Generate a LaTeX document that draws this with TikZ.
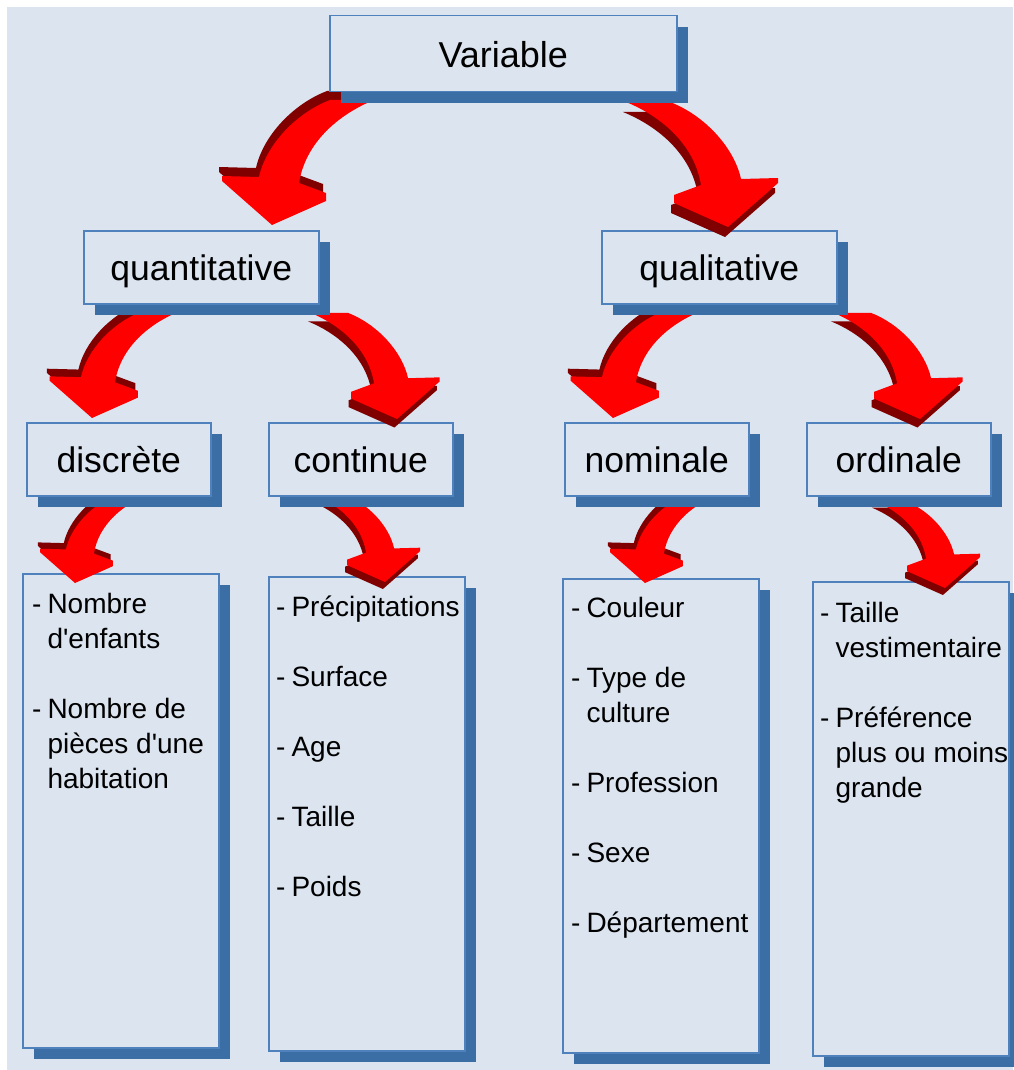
\documentclass[tikz,border=0pt]{standalone}
\usepackage{fontspec}
\setmainfont{Liberation Sans}[Ligatures=TeXOff]
\usetikzlibrary{shadows,calc}
\definecolor{bgblue}{RGB}{219,228,239}
\definecolor{lineblue}{RGB}{79,129,189}
\definecolor{shadeblue}{RGB}{59,110,165}
\definecolor{darkred}{RGB}{128,0,0}
\newcommand\itemlist[1]{\begin{tabular}[t]{@{}l@{\hspace{6pt}}l@{}}#1\end{tabular}}
\tikzset{
box/.style={draw=lineblue,line width=1.5pt,fill=bgblue,inner sep=0pt,anchor=north west,
 drop shadow={shadow xshift=11pt,shadow yshift=-11pt,fill=shadeblue,opacity=1}},
headbox/.style={box,minimum height=73pt,font=\fontsize{35.5}{40}\selectfont,text height=27pt,text depth=0pt},
listbox/.style={box,minimum width=196pt,minimum height=474pt},
listtext/.style={anchor=base west,inner sep=0pt,font=\fontsize{28}{35}\selectfont},
arrowshape/.style={insert path={(0,0)--(-50,-44)--(-50,-49)--(-13,-48)..controls(-6,-80)and(24,-112)..(58,-125)--(102,-125)..controls(70,-112)and(34,-85)..(27,-42)--(54,-32)--(54,-24)--cycle}},
redarrow/.pic={
\fill[darkred,shift={(#1)},arrowshape];
\fill[red,arrowshape];
}
}
\begin{document}
\begin{tikzpicture}[x=1pt,y=-1pt]
\useasboundingbox (0,0) rectangle (1013,1070);
\fill[white] (0,0) rectangle (1013,1070);
\fill[bgblue] (7,7) rectangle (1013,1070);

\node[listbox] (lst1) at (22,573) {};
\node[listbox] (lst2) at (268,576) {};
\node[listbox] (lst3) at (562,578) {};
\node[listbox] (lst4) at (812,581) {};
\node[listtext] (txt1) at ($(lst1.north west)+(10,40)$)
 {\itemlist{-&Nombre\\&d'enfants\\[35pt]-&Nombre de\\&pièces d'une\\&habitation}};
\node[listtext] (txt2) at ($(lst2.north west)+(8,40)$)
 {\itemlist{-&Précipitations\\[35pt]-&Surface\\[35pt]-&Age\\[35pt]-&Taille\\[35pt]-&Poids}};
\node[listtext] (txt3) at ($(lst3.north west)+(9,39)$)
 {\itemlist{-&Couleur\\[35pt]-&Type de\\&culture\\[35pt]-&Profession\\[35pt]-&Sexe\\[35pt]-&Département}};
\node[listtext] (txt4) at ($(lst4.north west)+(8,41)$)
 {\itemlist{-&Taille\\&vestimentaire\\[35pt]-&Préférence\\&plus ou moins\\&grande}};

\pic[scale=0.7] at ($(lst1.north west)+(53,10)$) {redarrow={-3,-9}};
\pic[xscale=-1,scale=0.7] at ($(lst2.north west)+(117,6)$) {redarrow={3,10}};
\pic[scale=0.7] at ($(lst3.north west)+(83,5)$) {redarrow={-3,-9}};
\pic[xscale=-1,scale=0.7] at ($(lst4.north west)+(133,7)$) {redarrow={3,10}};

\node[headbox,minimum width=184pt] (disc) at (26,422) {discrète};
\node[headbox,minimum width=184pt] (cont) at (268,422) {continue};
\node[headbox,minimum width=184pt] (nomi) at (564,422) {nominale};
\node[headbox,minimum width=184pt] (ordi) at (806,422) {ordinale};

\pic[scale=0.85] at ($(disc.north west)+(66,-4)$) {redarrow={-3,-9}};
\pic[xscale=-1,scale=0.85] at ($(cont.north west)+(129,-3)$) {redarrow={3,10}};
\pic[scale=0.85] at ($(nomi.north west)+(49,-4)$) {redarrow={-3,-9}};
\pic[xscale=-1,scale=0.85] at ($(ordi.north west)+(114,-3)$) {redarrow={3,10}};

\node[headbox,minimum width=235pt] (quanti) at (83,230) {quantitative};
\node[headbox,minimum width=235pt] (quali) at (601,230) {qualitative};

\pic at ($(quanti.north west)+(189,-5)$) {redarrow={-3,-9}};
\pic[xscale=-1] at ($(quali.north west)+(127,-3)$) {redarrow={3,10}};

\node[headbox,minimum width=347pt,minimum height=76pt,font=\fontsize{36}{40}\selectfont] (var) at (329,15) {Variable};
\end{tikzpicture}
\end{document}
